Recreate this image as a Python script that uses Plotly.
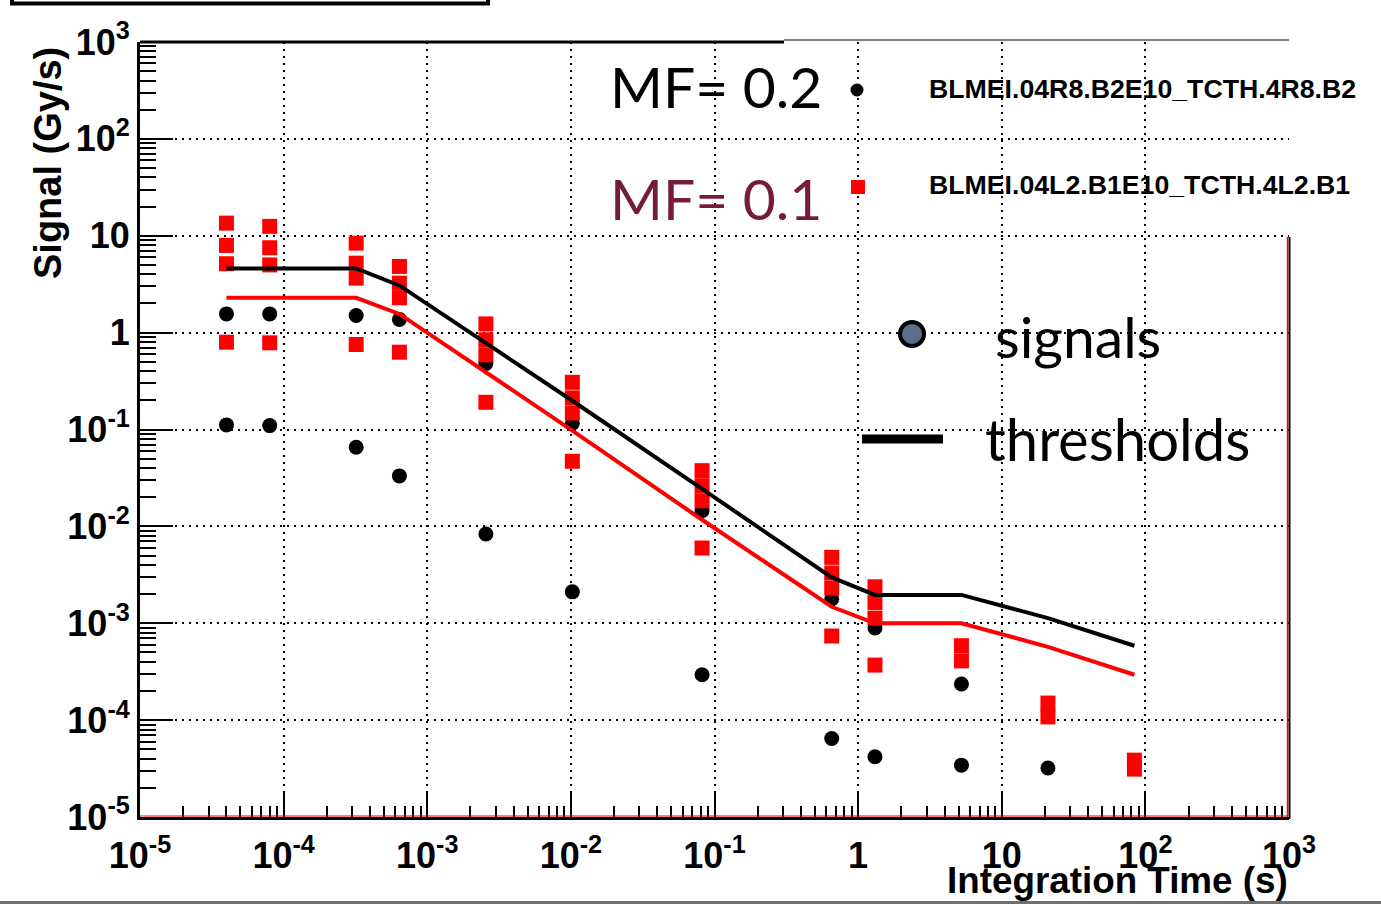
import plotly.graph_objects as go

# ---------------- data ----------------
run_time = [4e-5, 8e-5, 3.2e-4, 6.4e-4, 2.56e-3, 1.024e-2, 8.192e-2, 0.655, 1.31, 5.24, 20.97, 83.89]

thr_mf02 = [4.59, 4.59, 4.59, 3.07, 0.78, 0.198, 0.0244, 0.00297, 0.00196, 0.00196, 0.00113, 0.000586]
thr_mf01 = [2.29, 2.29, 2.29, 1.56, 0.393, 0.0975, 0.0117, 0.00148, 0.00100, 0.00100, 0.000571, 0.000294]

black_time = [4e-5, 4e-5, 8e-5, 8e-5, 3.2e-4, 3.2e-4, 6.4e-4, 6.4e-4,
              2.56e-3, 2.56e-3, 1.024e-2, 1.024e-2, 8.192e-2, 8.192e-2,
              0.655, 0.655, 1.31, 1.31, 5.24, 5.24, 20.97]
black_signal = [1.56, 0.1116, 1.56, 0.1097, 1.50, 0.0655, 1.37, 0.0332,
                0.48, 0.00834, 0.116, 0.00211, 0.0145, 2.94e-4,
                0.00178, 6.45e-5, 8.92e-4, 4.18e-5, 2.36e-4, 3.43e-5, 3.21e-5]

red_time = [4e-5] * 4 + [8e-5] * 4 + [3.2e-4] * 4 + [6.4e-4] * 4 + [2.56e-3] * 4 + \
           [1.024e-2] * 4 + [8.192e-2] * 4 + [0.655] * 4 + [1.31] * 4 + [5.24] * 2 + \
           [20.97] * 2 + [83.89] * 2
red_signal = [13.5, 7.94, 5.14, 0.796,
              12.5, 7.52, 5.0, 0.785,
              8.39, 5.21, 3.65, 0.754,
              4.82, 3.24, 2.29, 0.628,
              1.23, 0.843, 0.590, 0.191,
              0.307, 0.212, 0.148, 0.047,
              0.0376, 0.0263, 0.0184, 0.00598,
              0.00479, 0.00330, 0.00231, 7.38e-4,
              0.00238, 0.00164, 0.00113, 3.70e-4,
              5.86e-4, 4.09e-4,
              1.50e-4, 1.08e-4,
              3.86e-5, 3.12e-5]

tick_vals = [1e-5, 1e-4, 1e-3, 1e-2, 1e-1, 1, 10, 1e2, 1e3]
tick_text = ["10<sup>-5</sup>", "10<sup>-4</sup>", "10<sup>-3</sup>", "10<sup>-2</sup>",
             "10<sup>-1</sup>", "1", "10", "10<sup>2</sup>", "10<sup>3</sup>"]
minor_vals = [k * 10.0 ** e for e in range(-5, 3) for k in range(2, 10)]

# ---------------- figure ----------------
W, H = 1381, 904
L, R, T, B = 140, 1289, 42, 817
PW, PH = R - L, B - T


def px(x):
    return (x - L) / PW


def py(y):
    return (B - y) / PH


fig = go.Figure()
fig.add_trace(go.Scatter(x=black_time, y=black_signal, mode="markers",
                         marker=dict(symbol="circle", size=15, color="black", line=dict(width=0))))
fig.add_trace(go.Scatter(x=red_time, y=red_signal, mode="markers",
                         marker=dict(symbol="square", size=15, color="#ff0000", line=dict(width=0))))
fig.add_trace(go.Scatter(x=run_time, y=thr_mf01, mode="lines", line=dict(color="#ff0000", width=4)))
fig.add_trace(go.Scatter(x=run_time, y=thr_mf02, mode="lines", line=dict(color="black", width=4)))

tickfont = dict(family="Liberation Sans, Arial, sans-serif", size=36, color="black", weight="bold")
axis_common = dict(
    type="log", range=[-5, 3], showgrid=True, gridcolor="black", gridwidth=1.5, griddash="2px,5px",
    tickmode="array", tickvals=tick_vals, ticktext=tick_text, ticks="inside", tickwidth=2,
    tickcolor="black", showline=True, linewidth=3, linecolor="black", zeroline=False,
    tickfont=tickfont,
)
fig.update_xaxes(**axis_common, ticklen=25, ticklabelstandoff=5,
                 minor=dict(tickmode="array", tickvals=minor_vals, ticks="inside", ticklen=11,
                            tickwidth=2, tickcolor="black", showgrid=False))
fig.update_yaxes(**axis_common, ticklen=33,
                 minor=dict(tickmode="array", tickvals=minor_vals, ticks="inside", ticklen=16,
                            tickwidth=2, tickcolor="black", showgrid=False))

shapes = []
# legend box covering the grid at top right
shapes.append(dict(type="rect", xref="paper", yref="paper", x0=px(784), x1=px(1381), y0=py(237), y1=py(-5),
                   fillcolor="white", line=dict(width=0), layer="between"))
# top frame pieces
shapes.append(dict(type="line", xref="paper", yref="paper", x0=0, x1=px(784), y0=1, y1=1,
                   line=dict(color="black", width=3)))
shapes.append(dict(type="line", xref="paper", yref="paper", x0=px(784), x1=1, y0=py(40), y1=py(40),
                   line=dict(color="black", width=1)))
# right frame
shapes.append(dict(type="line", xref="paper", yref="paper", x0=px(1289.5), x1=px(1289.5), y0=py(819), y1=py(237),
                   line=dict(color="black", width=2)))
shapes.append(dict(type="line", xref="paper", yref="paper", x0=px(1287.5), x1=px(1287.5), y0=py(817), y1=py(237),
                   line=dict(color="#ff0000", width=1.5)))
# red line along bottom
shapes.append(dict(type="line", xref="paper", yref="paper", x0=0, x1=px(1287), y0=py(816), y1=py(816),
                   line=dict(color="#ff0000", width=1.2)))
# black box remnant at top-left
shapes.append(dict(type="rect", xref="paper", yref="paper", x0=px(12), x1=px(488), y0=py(3.5), y1=py(-20),
                   line=dict(color="black", width=4), fillcolor="rgba(0,0,0,0)"))
# grey line at bottom of image
shapes.append(dict(type="line", xref="paper", yref="paper", x0=px(0), x1=px(1381), y0=py(902.5), y1=py(902.5),
                   line=dict(color="#707070", width=3)))
# legend glyphs
shapes.append(dict(type="circle", xref="paper", yref="paper", xsizemode="pixel", ysizemode="pixel",
                   xanchor=px(857), yanchor=py(90), x0=-6.5, x1=6.5, y0=-6.5, y1=6.5,
                   fillcolor="black", line=dict(width=0)))
shapes.append(dict(type="rect", xref="paper", yref="paper", xsizemode="pixel", ysizemode="pixel",
                   xanchor=px(858), yanchor=py(187), x0=-7, x1=7, y0=-7, y1=7,
                   fillcolor="#ff0000", line=dict(width=0)))
shapes.append(dict(type="circle", xref="paper", yref="paper", xsizemode="pixel", ysizemode="pixel",
                   xanchor=px(912), yanchor=py(334), x0=-12, x1=12, y0=-12, y1=12,
                   fillcolor="#5b6f8c", line=dict(color="black", width=4)))
shapes.append(dict(type="line", xref="paper", yref="paper", x0=px(862), x1=px(943), y0=py(439), y1=py(439),
                   line=dict(color="black", width=9)))

bold = dict(family="Liberation Sans, Arial, sans-serif", color="black", weight="bold")
gill = "Lato, Open Sans, sans-serif"
annotations = [
    dict(text="Integration Time (s)", x=px(1290), y=py(880), xanchor="right", yanchor="middle",
         font=dict(size=36.8, **bold)),
    dict(text="Signal (Gy/s)", x=px(48), y=py(45), xanchor="center", yanchor="top", textangle=-90,
         font=dict(size=38, **bold)),
    dict(text="MF= 0.2", x=px(608), y=py(86), xanchor="left", yanchor="middle",
         font=dict(family=gill, size=57, color="black")),
    dict(text="MF= 0.1", x=px(608), y=py(198), xanchor="left", yanchor="middle",
         font=dict(family=gill, size=57, color="#741b3e")),
    dict(text="BLMEI.04R8.B2E10_TCTH.4R8.B2", x=px(927), y=py(89), xanchor="left", yanchor="middle",
         font=dict(size=26.7, **bold)),
    dict(text="BLMEI.04L2.B1E10_TCTH.4L2.B1", x=px(927), y=py(185), xanchor="left", yanchor="middle",
         font=dict(size=26.7, **bold)),
    dict(text="signals", x=px(993), y=py(336), xanchor="left", yanchor="middle",
         font=dict(family=gill, size=57, color="black")),
    dict(text="thresholds", x=px(983), y=py(438), xanchor="left", yanchor="middle",
         font=dict(family=gill, size=58, color="black")),
]
for a in annotations:
    a.update(xref="paper", yref="paper", showarrow=False)

fig.update_layout(
    width=W, height=H, autosize=False,
    margin=dict(l=L, r=W - R, t=T, b=H - B, pad=0, autoexpand=False),
    plot_bgcolor="white", paper_bgcolor="white", showlegend=False,
    shapes=shapes, annotations=annotations,
)

fig.write_html("out.html", config={"displayModeBar": False},
               post_script="document.body.style.margin='0';document.body.style.overflow='hidden';")
